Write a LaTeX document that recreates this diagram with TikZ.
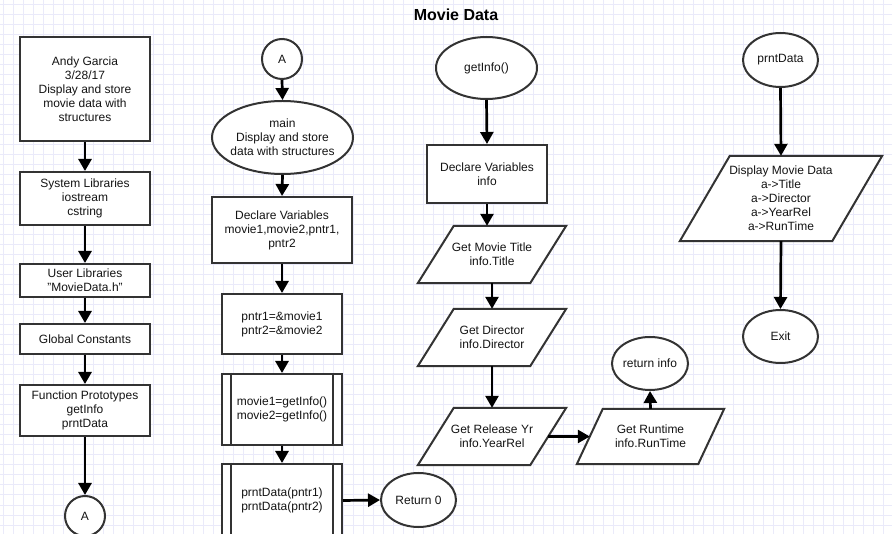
\documentclass[tikz,border=0pt]{standalone}
\usepackage{fontspec}
\setmainfont{Liberation Sans}
\usetikzlibrary{shapes.geometric,arrows.meta}
\definecolor{gridc}{HTML}{EAEAFA}
\definecolor{strokec}{HTML}{333333}
\definecolor{txtc}{HTML}{141414}
\tikzset{
  base/.style={inner sep=0pt, align=center, text=txtc, font=\fontsize{12}{14}\selectfont},
  box/.style={base, rectangle, draw=strokec, line width=2pt, fill=white},
  oval/.style={base, ellipse, draw=strokec, line width=2pt, fill=white},
  conn/.style={base, circle, draw=strokec, line width=2pt, fill=white, minimum size=40pt},
  paratext/.style={base, rectangle},
  shapeline/.style={draw=strokec, line width=2pt, fill=white},
  flow/.style={draw=black, line width=2.7pt, -{Triangle[length=12pt,width=13pt]}},
}
\newcommand\paraoutline[2]{%
  \draw[shapeline] ([xshift=#2]#1.north west) -- ([xshift=#2]#1.north east) -- ([xshift=-#2]#1.south east) -- ([xshift=-#2]#1.south west) -- cycle;}
\begin{document}
\begin{tikzpicture}[x=1pt,y=-1pt]
\useasboundingbox (0,0) rectangle (892,534);
\clip (0,0) rectangle (892,534);
\fill[white] (0,0) rectangle (892,534);
% grid
\foreach \gx in {3,13,...,893} {\draw[gridc, line width=1pt] (\gx,0) -- (\gx,534);}
\foreach \gy in {5,15,...,535} {\draw[gridc, line width=1pt] (0,\gy) -- (892,\gy);}

% title
\node[base, font=\bfseries\fontsize{16}{19}\selectfont, text=black] (title) at (456,15) {Movie Data};

% left column
\node[box, minimum width=130pt, minimum height=104pt] (b1) at (85,89) {Andy Garcia\\3/28/17\\Display and store\\movie data with\\structures};
\node[box, minimum width=130pt, minimum height=53pt] (b2) at (85,198.5) {System Libraries\\iostream\\cstring};
\node[box, minimum width=130pt, minimum height=33pt] (b3) at (85,280.5) {User Libraries\\"MovieData.h"};
\node[box, minimum width=130pt, minimum height=30pt] (b4) at (85,339) {Global Constants};
\node[box, minimum width=130pt, minimum height=51pt] (b5) at (85,410.5) {Function Prototypes\\getInfo\\prntData};
\node[conn] (ca1) at (85,516) {A};

% middle column
\node[conn] (ca2) at (282,59) {A};
\node[oval, minimum width=141pt, minimum height=73pt] (mainov) at (282.5,137.5) {};
\node[base] (maintext) at (mainov) {main\\Display and store\\data with structures};
\node[box, minimum width=140pt, minimum height=66pt] (dv) at (282,230) {Declare Variables\\movie1,movie2,pntr1,\\pntr2};
\node[box, minimum width=120pt, minimum height=60pt] (pn) at (282,324) {pntr1=\&movie1\\pntr2=\&movie2};
\node[box, minimum width=120pt, minimum height=71pt] (pp1) at (282,409.5) {movie1=getInfo()\\movie2=getInfo()};
\draw[strokec, line width=2pt] ([xshift=10pt]pp1.north west) -- ([xshift=10pt]pp1.south west);
\draw[strokec, line width=2pt] ([xshift=-10pt]pp1.north east) -- ([xshift=-10pt]pp1.south east);
\node[box, minimum width=120pt, minimum height=73pt] (pp2) at (282,500.5) {prntData(pntr1)\\prntData(pntr2)};
\draw[strokec, line width=2pt] ([xshift=10pt]pp2.north west) -- ([xshift=10pt]pp2.south west);
\draw[strokec, line width=2pt] ([xshift=-10pt]pp2.north east) -- ([xshift=-10pt]pp2.south east);
\node[oval, minimum width=75pt, minimum height=54pt] (ret0) at (418.5,500) {};
\node[base] (ret0text) at (ret0) {Return 0};

% third column
\node[oval, minimum width=101pt, minimum height=62pt] (gi) at (486.5,68) {};
\node[base] (gitext) at (gi) {getInfo()};
\node[box, minimum width=120pt, minimum height=58pt] (dvi) at (487,174) {Declare Variables\\info};
\node[paratext, minimum width=112pt, minimum height=57pt] (ttl) at (492,254.5) {};
\paraoutline{ttl}{18pt}
\node[paratext] (ttltext) at (ttl) {Get Movie Title\\info.Title};
\node[paratext, minimum width=112pt, minimum height=57pt] (dir) at (492,337.5) {};
\paraoutline{dir}{18pt}
\node[paratext] (dirtext) at (dir) {Get Director\\info.Director};
\node[paratext, minimum width=112pt, minimum height=57pt] (rel) at (492,436.5) {};
\paraoutline{rel}{18pt}
\node[paratext] (reltext) at (rel) {Get Release Yr\\info.YearRel};
\node[paratext, minimum width=121pt, minimum height=55pt] (rt) at (650.5,436.5) {};
\paraoutline{rt}{13pt}
\node[paratext] (rttext) at (rt) {Get Runtime\\info.RunTime};
\node[oval, minimum width=76pt, minimum height=53pt] (ri) at (650,363.5) {};
\node[base] (ritext) at (ri) {return info};

% fourth column
\node[oval, minimum width=75pt, minimum height=54pt] (pd) at (780.5,60) {};
\node[base] (pdtext) at (pd) {prntData};
\node[paratext, minimum width=152pt, minimum height=85pt] (disp) at (781,198.5) {};
\paraoutline{disp}{25pt}
\node[paratext] (disptext) at (disp) {Display Movie Data\\a->Title\\a->Director\\a->YearRel\\a->RunTime};
\node[oval, minimum width=75pt, minimum height=53pt] (ex) at (780.5,336.5) {};
\node[base] (extext) at (ex) {Exit};

% connectors
\draw[flow] (b1.south) -- (b2.north);
\draw[flow] (b2.south) -- (b3.north);
\draw[flow] (b3.south) -- (b4.north);
\draw[flow] (b4.south) -- (b5.north);
\draw[flow] (b5.south) -- (ca1.north);
\draw[flow] (ca2.south) -- (mainov.north);
\draw[flow] (mainov.south) -- (dv.north);
\draw[flow] (dv.south) -- (pn.north);
\draw[flow] (pn.south) -- (pp1.north);
\draw[flow] (pp1.south) -- (pp2.north);
\draw[flow] (pp2.east) -- (ret0.west);
\draw[flow] (gi.south) -- (dvi.north);
\draw[flow] (dvi.south) -- (dvi.south |- ttl.north);
\draw[flow] (ttl.south) -- (dir.north);
\draw[flow] (dir.south) -- (rel.north);
\draw[flow] (rel.east) -- (rt.west);
\draw[flow] (rt.north) -- (ri.south);
\draw[flow] (pd.south) -- (disp.north);
\draw[flow] (disp.south) -- (ex.north);
\end{tikzpicture}
\end{document}
